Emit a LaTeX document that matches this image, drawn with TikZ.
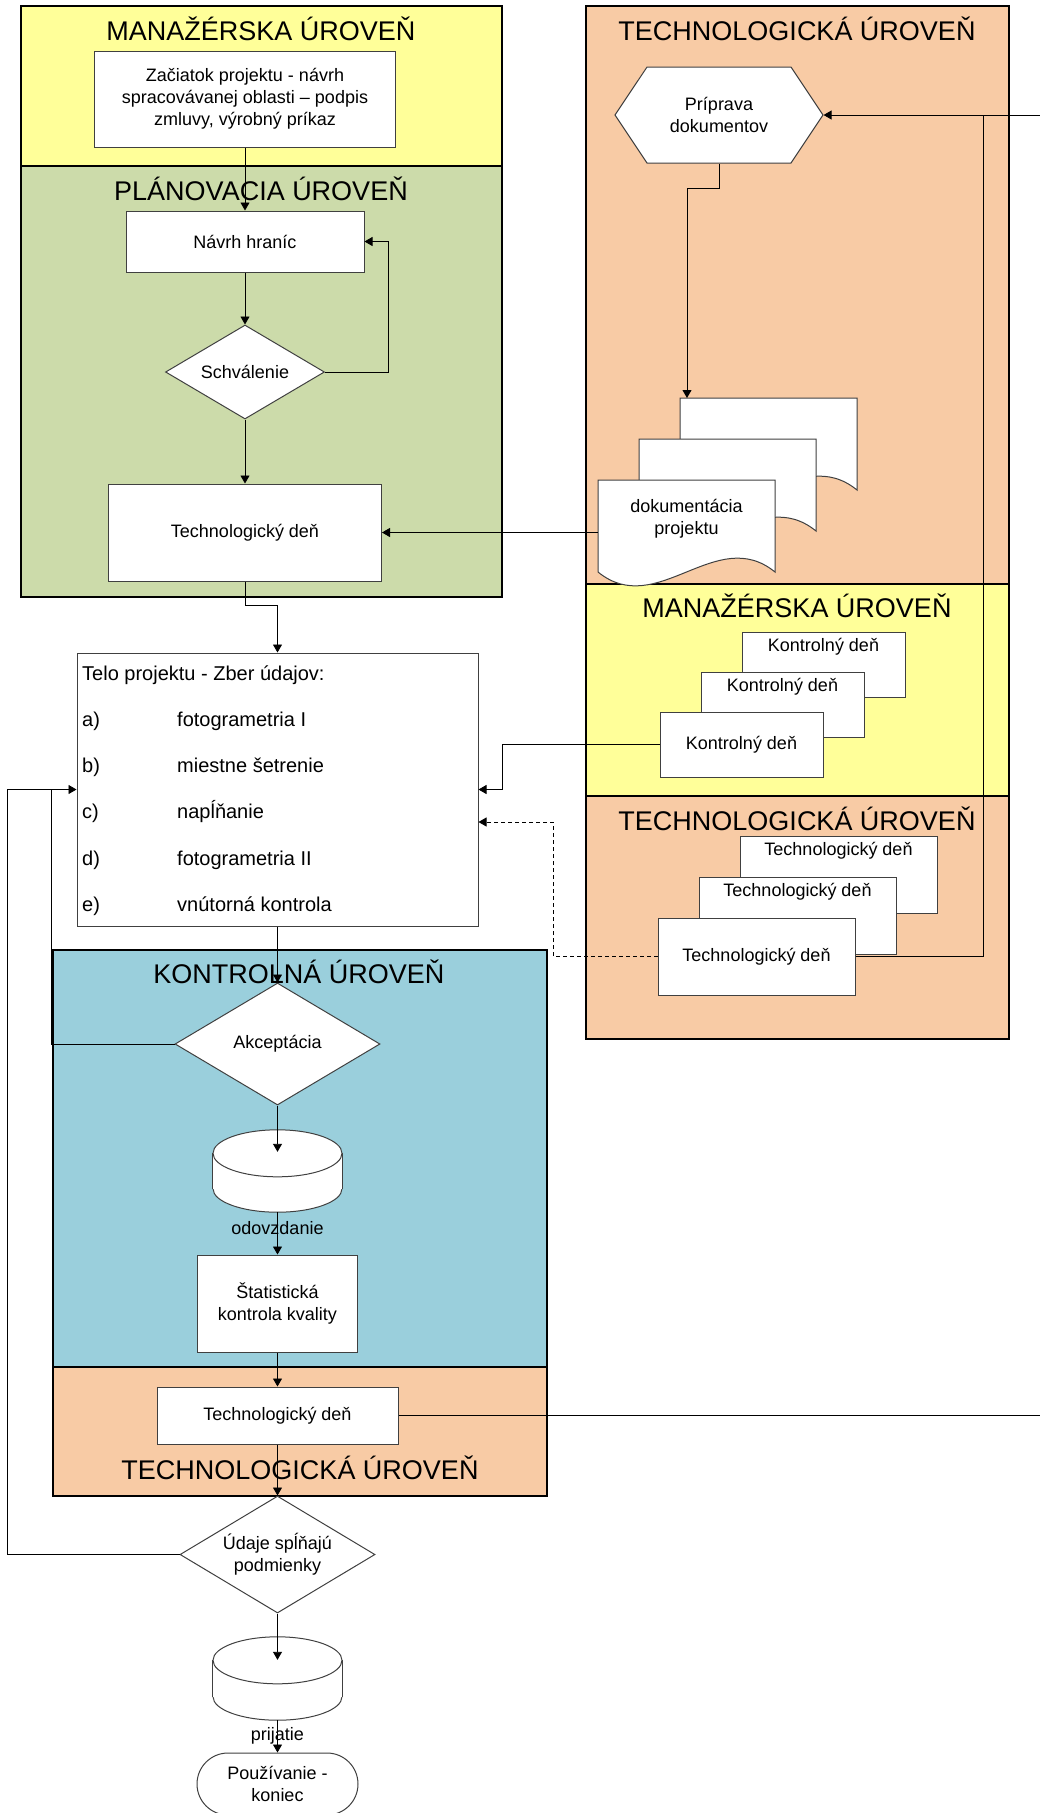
\documentclass[tikz,border=0pt]{standalone}
\usepackage{fontspec}
\setmainfont{Liberation Sans}
\usepackage{tikz}
\usetikzlibrary{shapes.geometric,shapes.symbols,shapes.misc,arrows.meta,calc}
\definecolor{laneyellow}{RGB}{255,255,153}
\definecolor{lanegreen}{RGB}{204,219,170}
\definecolor{lanepeach}{RGB}{248,203,165}
\definecolor{laneblue}{RGB}{154,207,220}

\begin{document}
\begin{tikzpicture}[x=1pt,y=-1pt,
    lane/.style={draw=black, line width=1.6pt},
    lanetitle/.style={anchor=base, inner sep=0pt, font=\fontsize{27}{32}\selectfont},
    txt/.style={inner sep=0pt, align=center, font=\fontsize{18}{22}\selectfont},
    telotxt/.style={anchor=base west, inner sep=0pt, font=\fontsize{20}{24}\selectfont},
    flowbox/.style={draw=black!75, line width=1pt, fill=white, inner sep=0pt,
        align=center, font=\fontsize{18}{22}\selectfont},
    dia/.style={flowbox, diamond, aspect=1.7},
    geo/.style={draw=none, fill=none, inner sep=0pt},
    conn/.style={draw=black, line width=0.9pt},
    arr/.style={conn, -{Triangle[length=8pt,width=9pt]}}
  ]
    \useasboundingbox (0,0) rectangle (1040,1813);
    \clip (0,0) rectangle (1040,1813);
    \fill[white] (0,0) rectangle (1040,1813);

    % Lanes
    \draw[lane, fill=laneyellow] (21,6) rectangle (502,166);
    \draw[lane, fill=lanegreen] (21,166) rectangle (502,597);
    \draw[lane, fill=lanepeach] (586,6) rectangle (1009,584);
    \draw[lane, fill=laneyellow] (586,584) rectangle (1009,796);
    \draw[lane, fill=lanepeach] (586,796) rectangle (1009,1039);
    \draw[lane, fill=laneblue] (53,950) rectangle (547,1367);
    \draw[lane, fill=lanepeach] (53,1367) rectangle (547,1496);

    % Lane titles
    \node[lanetitle] (tMan) at (261,40) {MANAŽÉRSKA ÚROVEŇ};
    \node[lanetitle] (tPlan) at (261,200) {PLÁNOVACIA ÚROVEŇ};
    \node[lanetitle] (tTech) at (797,40.7) {TECHNOLOGICKÁ ÚROVEŇ};
    \node[lanetitle] (tMan2) at (797,617.7) {MANAŽÉRSKA ÚROVEŇ};
    \node[lanetitle] (tTech2) at (797,830) {TECHNOLOGICKÁ ÚROVEŇ};
    \node[lanetitle] (tKon) at (299,983) {KONTROLNÁ ÚROVEŇ};
    \node[lanetitle] (tTech3) at (300,1479) {TECHNOLOGICKÁ ÚROVEŇ};

    % Left column
    \node[flowbox, minimum width=301pt, minimum height=96pt] (start) at (245,99)
        {Začiatok projektu - návrh\\spracovávanej oblasti – podpis\\zmluvy, výrobný príkaz};
    \node[flowbox, minimum width=238pt, minimum height=61pt] (navrh) at (245,241.5) {Návrh hraníc};
    \node[dia, minimum width=159pt, minimum height=94pt] (schval) at (245,372) {Schválenie};
    \node[flowbox, minimum width=273pt, minimum height=97pt] (techP) at (245,532.5) {Technologický deň};

    % Project body
    \node[flowbox, minimum width=401pt, minimum height=273pt] (telo) at (277.5,789.5) {};
    \node[telotxt] (teloH) at (82,680) {Telo projektu - Zber údajov:};
    \foreach \lbl/\entry [count=\k] in {a)/fotogrametria I, b)/miestne šetrenie,
        c)/napĺňanie, d)/fotogrametria II, e)/vnútorná kontrola} {
        \pgfmathsetmacro{\yb}{680+46.3*\k}
        \node[telotxt] (lt\k) at (82,\yb) {\lbl};
        \node[telotxt] (en\k) at (177,\yb) {\entry};
    }

    % Control part
    \node[dia, minimum width=205pt, minimum height=122pt] (akc) at (277.5,1044) {Akceptácia};
    \node[geo, minimum width=129pt, minimum height=82pt] (cyl1) at (277.5,1171) {};
    \node[flowbox, minimum width=160pt, minimum height=97pt] (stat) at (277.5,1303.5)
        {Štatistická\\kontrola kvality};
    \node[flowbox, minimum width=241pt, minimum height=57pt] (techK) at (277.5,1415.5) {Technologický deň};
    \node[dia, minimum width=195pt, minimum height=117pt] (udaje) at (277.5,1554.5)
        {Údaje spĺňajú\\podmienky};
    \node[geo, minimum width=129pt, minimum height=83pt] (cyl2) at (277.5,1678.5) {};
    \node[flowbox, rounded rectangle, minimum width=161pt, minimum height=62pt] (term) at (277.5,1784)
        {Používanie -\\koniec};

    % Cylinders
    \foreach \c in {cyl1,cyl2} {
        \draw[draw=black!75, line width=1pt, fill=white] ($(\c.south)+(0,-23.5)$)
            ellipse [x radius=64.5pt, y radius=23.5pt];
        \fill[white] ($(\c.north west)+(0,23.5)$) rectangle ($(\c.south east)+(0,-23.5)$);
        \draw[draw=black!75, line width=1pt] ($(\c.north west)+(0,23.5)$) -- ($(\c.south west)+(0,-23.5)$);
        \draw[draw=black!75, line width=1pt] ($(\c.north east)+(0,23.5)$) -- ($(\c.south east)+(0,-23.5)$);
        \draw[draw=black!75, line width=1pt, fill=white] ($(\c.north)+(0,23.5)$)
            ellipse [x radius=64.5pt, y radius=23.5pt];
    }
    \node[txt] (odo) at (277.5,1228) {odovzdanie};
    \node[txt] (pri) at (277.5,1736) {prijatie};

    % Right column
    \node[flowbox, signal, signal to=west and east, signal pointer angle=112.6,
        minimum width=208pt, minimum height=96pt] (prip) at (719,115) {Príprava\\dokumentov};

    % Document stack
    \foreach \i in {2,1,0} {
        \begin{scope}[shift={({41*\i},{-41*\i})}]
            \draw[draw=black!75, line width=1pt, fill=white]
                (598,480) -- (775,480) -- (775,572)
                .. controls (716,524) and (657,620) .. (598,572) -- cycle;
        \end{scope}
    }
    \node[geo, minimum width=177pt, minimum height=92pt] (dok) at (686.5,526) {};
    \node[txt] (dokT) at (686.5,519) {dokumentácia\\projektu};
    \coordinate (dokTop) at (687,398);

    % Control days
    \foreach \i in {2,1,0} {
        \node[flowbox, minimum width=163pt, minimum height=65pt] (kd\i)
            at ({741.5+41*\i},{744.5-40*\i}) {};
        \ifnum\i=0
            \node[txt] (kdt\i) at (kd\i.center) {Kontrolný deň};
        \else
            \node[txt] (kdt\i) at ($(kd\i.north)+(0,15)$) {Kontrolný deň};
        \fi
    }

    % Technological days
    \foreach \i in {2,1,0} {
        \node[flowbox, minimum width=197pt, minimum height=77pt] (td\i)
            at ({756.5+41*\i},{956.5-41*\i}) {};
        \ifnum\i=0
            \node[txt] (tdt\i) at (td\i.center) {Technologický deň};
        \else
            \node[txt] (tdt\i) at ($(td\i.north)+(0,15)$) {Technologický deň};
        \fi
    }

    % Helper points
    \coordinate (fbk) at (983,115);
    \coordinate (edgeTop) at (1045,115);
    \coordinate (dashC) at (553,822);

    % Connectors
    \draw[arr] (start.south) -- (navrh.north);
    \draw[arr] (navrh.south) -- (schval.north);
    \draw[arr] (schval.east) -- ++(63,0) |- (navrh.east);
    \draw[arr] (schval.south) -- (techP.north);
    \draw[arr] (techP.south) -- ++(0,24) -| (telo.north);
    \draw[arr] (prip.south) -- ++(0,25) -| (dokTop);
    \draw[arr] (dok.west |- techP.east) -- (techP.east);
    \draw[arr] (kd0.west) -| ($(telo.east)+(24,0)$) -- (telo.east);
    \draw[arr, dash pattern=on 4pt off 3pt] (td0.west) -| (dashC) -- (dashC -| telo.east);
    \draw[arr] (td0.east) -| (fbk) -- (prip.east);
    \draw[conn] (edgeTop) -- (fbk);
    \draw[arr] (telo.south) -- (akc.north);
    \draw[conn] (akc.west) -| ($(telo.west)+(-25,0)$);
    \draw[arr] (udaje.west) -| ($(telo.west)+(-69,0)$) -- (telo.west);
    \draw[arr] (akc.south) -- ($(cyl1.north)+(0,22)$);
    \draw[arr] (cyl1.south) -- (stat.north);
    \draw[arr] (stat.south) -- (techK.north);
    \draw[arr] (techK.south) -- (udaje.north);
    \draw[conn] (techK.east) -- (techK.east -| edgeTop);
    \draw[arr] (udaje.south) -- ($(cyl2.north)+(0,23)$);
    \draw[arr] (cyl2.south) -- (term.north);
\end{tikzpicture}
\end{document}
